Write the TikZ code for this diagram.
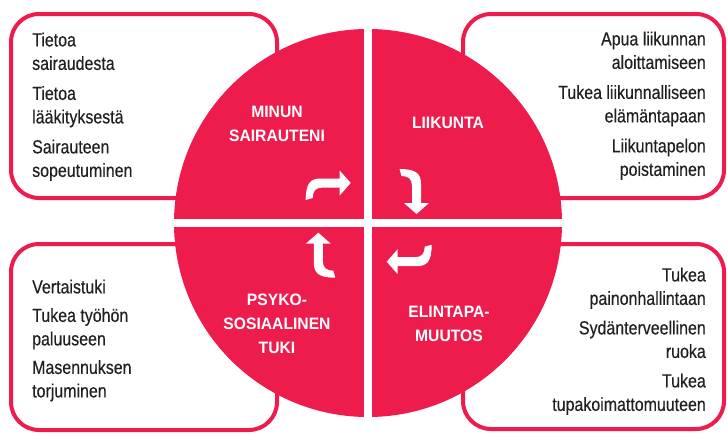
\documentclass[tikz,border=0pt]{standalone}
\usepackage{fontspec}
\setmainfont{Liberation Sans}[FakeStretch=0.84, FakeBold=0.4]
\newfontfamily\headfont{Liberation Sans}[FakeStretch=0.95]
\definecolor{hred}{RGB}{237, 28, 76}
\definecolor{htext}{RGB}{35, 31, 32}
\tikzset{infobox/.style = {draw = hred, line width = 4pt, rounded corners = 28pt, inner sep = 0}}
\tikzset{listtext/.style = {text = htext, inner sep = 0, font = \fontsize{19}{23.5}\selectfont}}
\tikzset{headtext/.style = {text = white, inner sep = 0, align = center, anchor = north,
    font = \headfont\bfseries\fontsize{16.5}{24}\selectfont}}
\tikzset{turnarrow/.pic = {
    \fill [white] (-11, -4.5) -- (-30, -4.5) .. controls (-40, -4.5) and (-45, 0) .. (-45, 17)
      -- (-38, 15) .. controls (-38, 8) and (-35, 4.5) .. (-28, 4.5) -- (-11, 4.5)
      -- (-11, 12.5) -- (0, 0) -- (-11, -12.5) -- cycle;}}

\begin{document}
\begin{tikzpicture}[x = 1pt, y = -1pt]
    \useasboundingbox (0, 0) rectangle (728, 439);

    \node [infobox, minimum width = 266pt, minimum height = 184pt] (sairausbox) at (144, 106) {};
    \node [infobox, minimum width = 261pt, minimum height = 184pt] (liikuntabox) at (593.5, 106) {};
    \node [infobox, minimum width = 266pt, minimum height = 186pt] (tukibox) at (144, 337) {};
    \node [infobox, minimum width = 261pt, minimum height = 185pt] (elintapabox) at (593.5, 336.5) {};

    \coordinate (hub) at (368, 223);
    \fill [hred] (hub) circle [radius = 194];
    \draw [white, line width = 8pt] (hub) ++(0, -196) -- ++(0, 392);
    \draw [white, line width = 8pt] (hub) ++(-196, 0) -- ++(392, 0);

    \node [listtext, anchor = north west, align = left] (sairauslist) at (32, 32.4)
      {Tietoa\\sairaudesta\\[6.5pt]Tietoa\\lääkityksestä\\[6.5pt]Sairauteen\\sopeutuminen};
    \node [listtext, anchor = north east, align = right] (liikuntalist) at (706, 31.4)
      {Apua liikunnan\\aloittamiseen\\[6.5pt]Tukea liikunnalliseen\\elämäntapaan\\[6.5pt]Liikuntapelon\\poistaminen};
    \node [listtext, anchor = north west, align = left] (tukilist) at (32, 279.4)
      {Vertaistuki\\[5pt]Tukea työhön\\paluuseen\\[5pt]Masennuksen\\torjuminen};
    \node [listtext, anchor = north east, align = right] (elintapalist) at (706, 267.4)
      {Tukea\\painonhallintaan\\[6pt]Sydänterveellinen\\ruoka\\[6pt]Tukea\\tupakoimattomuuteen};

    \node [headtext] (sairaus) at (277, 106) {MINUN\\SAIRAUTENI};
    \node [headtext] (liikunta) at (448, 117) {LIIKUNTA};
    \node [headtext] (tuki) at (277, 294) {PSYKO-\\SOSIAALINEN\\TUKI};
    \node [headtext] (elintapa) at (449, 306) {ELINTAPA-\\MUUTOS};

    \pic at (350.7, 183) {turnarrow};
    \pic [rotate = -90] at (416.5, 214) {turnarrow};
    \pic [rotate = 180] at (386.7, 261.7) {turnarrow};
    \pic [rotate = 90] at (318.3, 232.7) {turnarrow};
  \end{tikzpicture}
\end{document}
